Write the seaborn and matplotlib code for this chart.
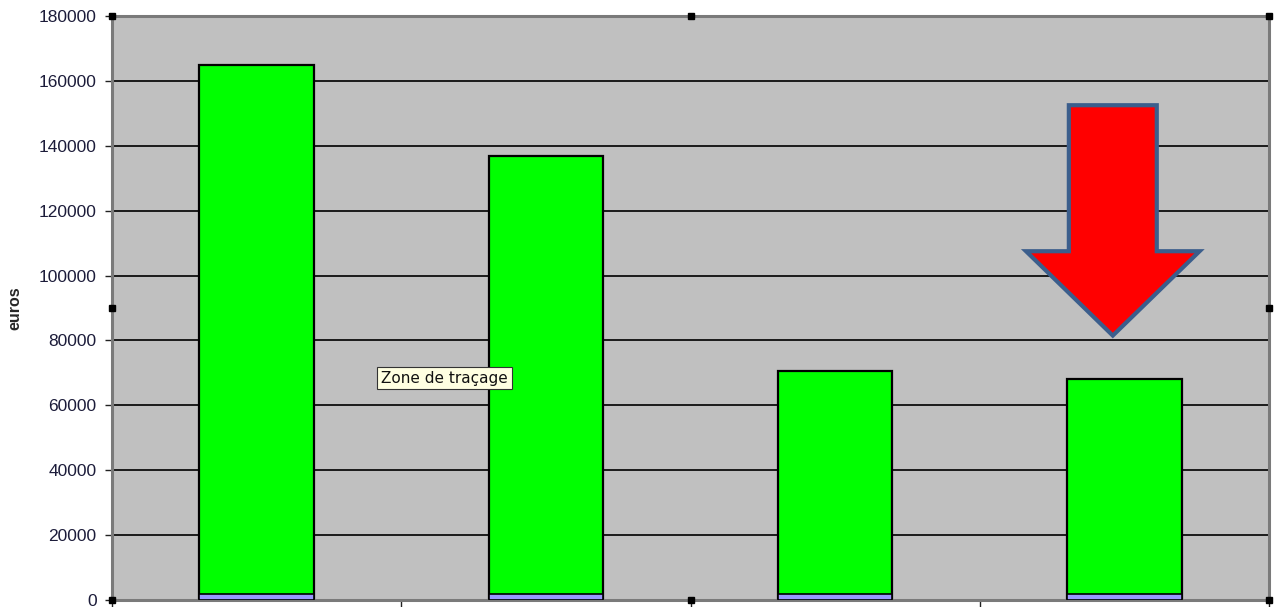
import matplotlib
matplotlib.use("Agg")
import matplotlib.pyplot as plt
import seaborn as sns
import pandas as pd
from matplotlib.patches import Polygon

# Data: four periods, each a small base segment plus the main amount (euros)
categories = ["1", "2", "3", "4"]
base_values = [2000, 2000, 2000, 2000]
main_values = [163000, 135000, 68600, 66000]
totals = [b + m for b, m in zip(base_values, main_values)]
y_ticks = list(range(0, 180001, 20000))

df = pd.DataFrame({"cat": categories, "total": totals, "base": base_values})

sns.set_style("white")
plt.rcParams["font.family"] = ["Liberation Sans", "DejaVu Sans"]

fig = plt.figure(figsize=(12.74, 6.07), dpi=100)
ax = fig.add_axes([112 / 1274, 7 / 607, 1157 / 1274, 584 / 607])
ax.set_facecolor("#C0C0C0")

# Grid lines behind the bars
for t in y_ticks[1:]:
    ax.axhline(t, color="#1a1a1a", lw=1.4, zorder=0.5)

sns.barplot(data=df, x="cat", y="total", color="#00FF00", saturation=1,
            width=0.395, edgecolor="black", linewidth=1.6, ax=ax, zorder=2)
sns.barplot(data=df, x="cat", y="base", color="#9999FF", saturation=1,
            width=0.395, edgecolor="black", linewidth=1.2, ax=ax, zorder=3)

ax.set_xlim(-0.5, 3.5)
ax.set_ylim(0, 180000)
ax.set_yticks(y_ticks)
ax.set_yticklabels([str(t) for t in y_ticks], fontsize=12.5, color="#1c1c3a")
ax.set_xticks([-0.5, 0.5, 1.5, 2.5, 3.5])
ax.set_xticklabels([])
ax.set_xlabel("")
ax.set_ylabel("euros", fontsize=11.5, fontweight="bold", labelpad=12)
ax.tick_params(axis="y", length=5, width=1, color="#222222", pad=6, left=True)
ax.tick_params(axis="x", length=7, width=1, color="#222222", bottom=True)

# Dotted selection frame around the plot area
for s in ax.spines.values():
    s.set_visible(True)
    s.set_color("#7a7a7a")
    s.set_linestyle((0, (1, 1)))
    s.set_linewidth(2.2)

# Selection handles
hx = [0, 0.5, 1, 0, 1, 0, 0.5, 1]
hy = [1, 1, 1, 0.5, 0.5, 0, 0, 0]
ax.plot(hx, hy, "s", ms=4, color="black", mfc="black", transform=ax.transAxes,
        clip_on=False, zorder=10)

# Red downward arrow over the last period
cx = 2.96
arrow = Polygon([
    (cx - 0.152, 152500), (cx + 0.152, 152500), (cx + 0.152, 107500),
    (cx + 0.30, 107500), (cx, 81500), (cx - 0.30, 107500), (cx - 0.152, 107500)],
    closed=True, facecolor="#FF0000", edgecolor="#3B5E8C", linewidth=3,
    joinstyle="miter", zorder=6)
ax.add_patch(arrow)

# Tooltip box
ax.text(0.43, 68400, "Zone de traçage", fontsize=11, family=["DejaVu Sans"],
        color="#111111", va="center", ha="left", zorder=8,
        bbox=dict(boxstyle="square,pad=0.25", facecolor="#FFFFE1",
                  edgecolor="#333333", linewidth=0.8))

fig.savefig("out.png", dpi=100)
